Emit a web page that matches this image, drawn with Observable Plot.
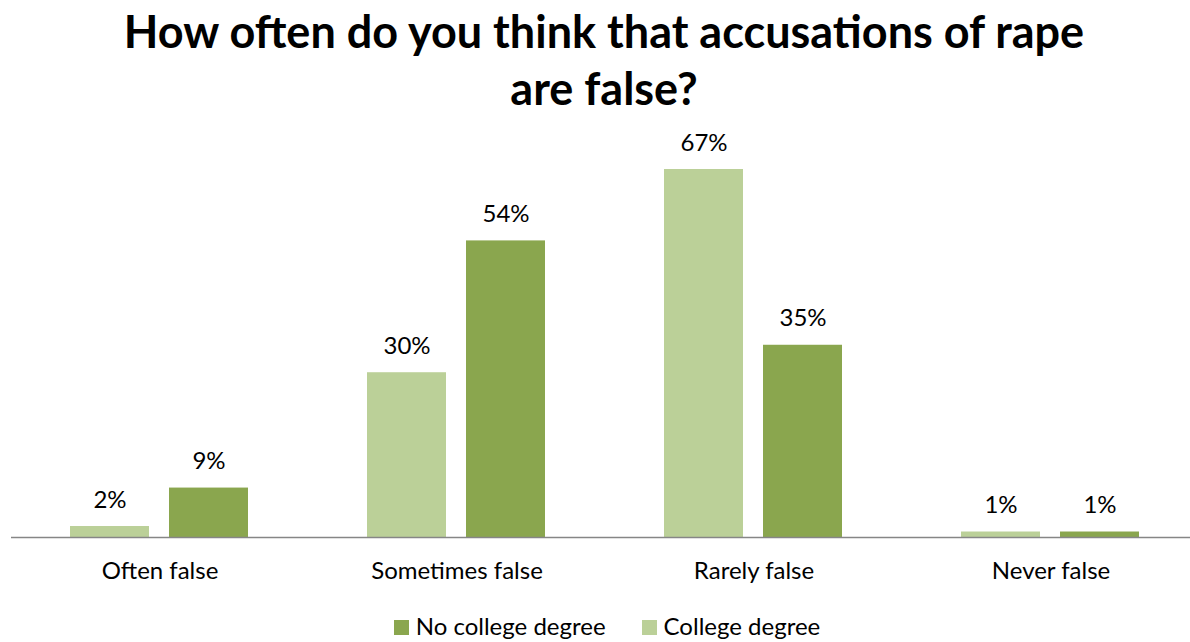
<!DOCTYPE html>
<html>
<head>
<meta charset="utf-8">
<script src="https://cdn.jsdelivr.net/npm/d3@7"></script>
<script src="https://cdn.jsdelivr.net/npm/@observablehq/plot@0.6"></script>
<style>
  html, body { margin: 0; padding: 0; background: #fff; }
  #wrap { width: 1190px; height: 642px; overflow: hidden; position: relative; font-family: Lato, "Open Sans", sans-serif; color: #000; }
  #title { position: absolute; left: 0; top: 3px; width: 1190px; padding-left: 18px; box-sizing: border-box; text-align: center; font-weight: bold; font-size: 45px; line-height: 57px; }
  #chart { position: absolute; left: 0; top: 120px; width: 1190px; height: 470px; overflow: hidden; }
  #chart svg { max-width: none !important; }
  #legend { position: absolute; left: 0; top: 612px; width: 1190px; display: flex; justify-content: center; padding-left: 24px; box-sizing: border-box; font-size: 24px; line-height: 28px; }
  .item { display: flex; align-items: center; margin: 0 18px; }
  .sw { width: 15px; height: 15px; margin-right: 7px; margin-top: 3px; }
</style>
</head>
<body>
<div id="wrap">
  <div id="title">How often do you think that accusations of rape<br>are false?</div>
  <div id="chart"></div>
  <div id="legend"></div>
</div>
<script>
const categories = ["Often false", "Sometimes false", "Rarely false", "Never false"];
const seriesNames = ["College degree", "No college degree"];
const collegeValues = [2, 30, 67, 1];
const noCollegeValues = [9, 54, 35, 1];
const seriesColors = ["#BBD098", "#8AA64E"];
const legendOrder = ["No college degree", "College degree"];

const data = categories.flatMap((c, i) => [
  {category: c, series: seriesNames[0], value: collegeValues[i]},
  {category: c, series: seriesNames[1], value: noCollegeValues[i]}
]);

const chart = Plot.plot({
  width: 1200,
  height: 470,
  marginTop: 49,
  marginBottom: 53,
  marginLeft: 10,
  marginRight: 0,
  style: {fontFamily: "Lato, 'Open Sans', sans-serif", fontSize: "24px", color: "#000", background: "transparent", maxWidth: "none"},
  fx: {domain: categories, padding: 0, label: null},
  x: {domain: seriesNames, paddingInner: 0.2, paddingOuter: 0.6, axis: null},
  y: {domain: [0, 67], axis: null},
  color: {domain: seriesNames, range: seriesColors},
  marks: [
    Plot.barY(data, {fx: "category", x: "series", y: "value", fill: "series"}),
    Plot.ruleY([0], {stroke: "#868686", strokeWidth: 1.5}),
    Plot.text(data, {fx: "category", x: "series", y: "value", text: d => d.value + "%", lineAnchor: "bottom", dy: -19, fontSize: 24, fill: "#000"}),
    Plot.axisFx({anchor: "bottom", tickSize: 0, tickPadding: 24, fontSize: 24, label: null, fill: "#000"})
  ]
});
document.getElementById("chart").appendChild(chart);

const legend = document.getElementById("legend");
legendOrder.forEach(name => {
  const item = document.createElement("div");
  item.className = "item";
  const sw = document.createElement("span");
  sw.className = "sw";
  sw.style.background = seriesColors[seriesNames.indexOf(name)];
  const label = document.createElement("span");
  label.textContent = name;
  item.appendChild(sw);
  item.appendChild(label);
  legend.appendChild(item);
});
</script>
</body>
</html>
